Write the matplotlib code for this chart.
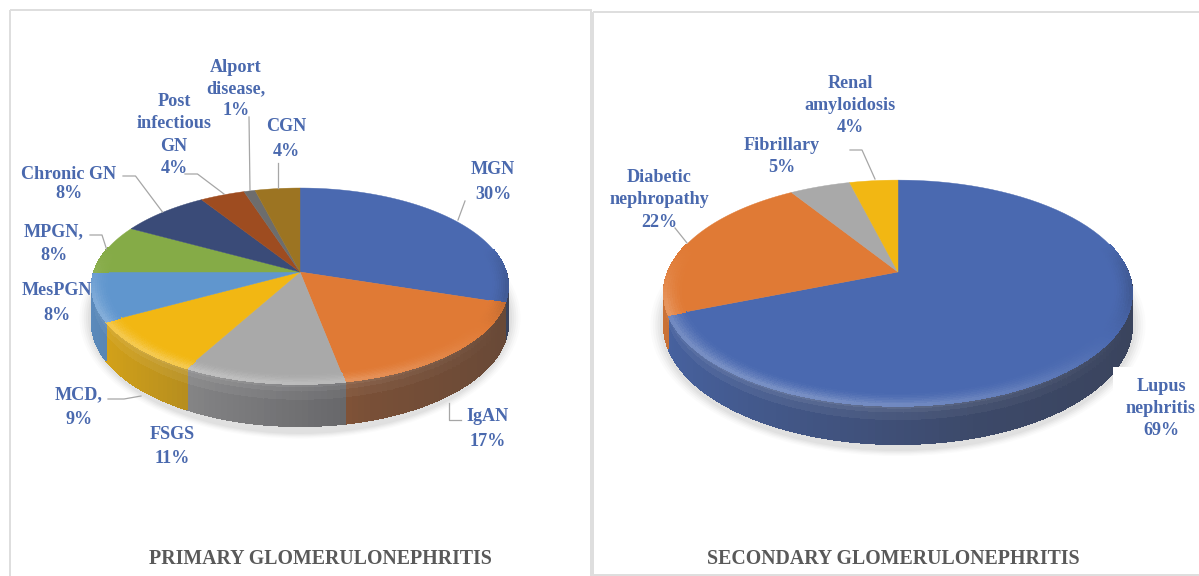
import matplotlib
matplotlib.use("Agg")
import matplotlib.pyplot as plt
import numpy as np
from matplotlib.collections import PolyCollection
from matplotlib.colors import to_rgb
from matplotlib.patches import Ellipse, Rectangle

plt.rcParams['font.family'] = ['Liberation Serif', 'DejaVu Serif']

# data
primary_names = ['MGN', 'IgAN', 'FSGS', 'MCD', 'MesPGN', 'MPGN', 'Chronic GN',
                 'Post infectious GN', 'Alport disease', 'CGN']
primary_values = [30, 17, 11, 9, 8, 8, 8, 4, 1, 4]
primary_labels = ['MGN\n30%', 'IgAN\n17%', 'FSGS\n11%', 'MCD,\n9%', 'MesPGN\n8%', 'MPGN,\n8%',
                  'Chronic GN\n8%', 'Post\ninfectious\nGN\n4%', 'Alport\ndisease,\n1%', 'CGN\n4%']
secondary_names = ['Lupus nephritis', 'Diabetic nephropathy', 'Fibrillary', 'Renal amyloidosis']
secondary_values = [69, 22, 5, 4]
secondary_labels = ['Lupus\nnephritis\n69%', 'Diabetic\nnephropathy\n22%', 'Fibrillary\n5%',
                    'Renal\namyloidosis\n4%']
primary_title = 'PRIMARY GLOMERULONEPHRITIS'
secondary_title = 'SECONDARY GLOMERULONEPHRITIS'

# styles
primary_colors = ['#4A69B0', '#E07A35', '#A9A9A9', '#F2B713', '#6096CE', '#85AB47',
                  '#3A4B78', '#9E4C20', '#6D6D6D', '#9C7422']
secondary_colors = ['#4A69B0', '#E07A35', '#A9A9A9', '#F2B713']
TEXT_COLOR = '#4A69AE'
LEADER = '#A6A6A6'
FRAME = '#DEDEDE'
FONT_PX = 18.2
DPI = 100

# layout in picture pixels: label centre x, centre y, line gap
primary_pos = [(493, 182, 27), (488, 429, 27), (172, 446.5, 26), (79, 407, 27), (57, 303, 27),
               (54, 243.5, 26), (69, 184, 20), (174, 135, 23.7), (236, 89, 22.5), (286, 139, 27)]
secondary_pos = [(1161, 408.5, 23), (659, 200, 23.5), (782, 156.5, 24), (850, 105.5, 23)]
primary_leaders = [[(465, 201), (458, 220)], [(449, 403), (449, 420), (461, 420)],
                   [(108, 399), (124, 399), (141, 396)], [(90, 235), (102, 235), (106.5, 249)],
                   [(123, 176), (135.5, 176), (162.5, 212)], [(185, 174), (197.5, 174), (224, 194)],
                   [(249, 117), (250, 190)], [(277.5, 163), (277.5, 188)]]
secondary_leaders = [[(675, 228), (687, 243)], [(850, 150), (862, 150), (875, 179)]]


def mix(color, other, t):
    return tuple((1 - t) * np.array(to_rgb(color)) + t * np.array(other))


def project(theta, r, geo):
    # clockwise from 12 o'clock, tilted disc with perspective
    x = r * np.sin(theta)
    y = r * np.cos(theta)
    w = 1 + geo['k'] * y
    return geo['cx'] + geo['A'] * x / w, geo['cy'] - geo['B'] * y / w


def draw_pie(ax, values, colors, geo):
    edges = np.radians(np.concatenate([[0], np.cumsum(values)]) * 360 / np.sum(values))

    # soft shadow under the disc
    for grow, alpha in zip([1.04, 1.03, 1.02, 1.01, 1.0], [0.03, 0.04, 0.05, 0.06, 0.07]):
        ax.add_patch(Ellipse((geo['cx'], geo['sy']), 2 * geo['rx'] * grow, 2 * geo['ry'] * grow,
                             color='#808080', alpha=alpha, lw=0, zorder=1))

    # side wall, back half stays hidden behind the top face
    polys, cols = [], []
    for i, color in enumerate(colors):
        thetas = np.linspace(edges[i], edges[i + 1], max(3, int((edges[i + 1] - edges[i]) * 40)))
        for t0, t1 in zip(thetas[:-1], thetas[1:]):
            tm = (t0 + t1) / 2
            if np.cos(tm) > 0:
                continue
            x0, y0 = project(t0, 1, geo)
            x1, y1 = project(t1, 1, geo)
            d0 = geo['D'] / (1 + geo['k'] * np.cos(t0))
            d1 = geo['D'] / (1 + geo['k'] * np.cos(t1))
            shade = np.interp(np.sin(tm), [-1, -0.3, 0.3, 1], [0.88, 0.62, 0.4, 0.3])
            for v0, v1 in zip([0, 0.1, 0.2, 0.4, 0.7], [0.1, 0.2, 0.4, 0.7, 1]):
                polys.append([(x0, y0 + d0 * v0), (x1, y1 + d1 * v0), (x1, y1 + d1 * v1), (x0, y0 + d0 * v1)])
                glow = max(0, 0.3 - v0) * 0.5 * max(0, -np.sin(tm) * 0.5 - np.cos(tm))
                cols.append(mix(mix(color, (0.2, 0.2, 0.22), 1 - shade), (1, 1, 1), glow))
    ax.add_collection(PolyCollection(polys, facecolors=cols, edgecolors=cols, linewidths=0.8,
                                     antialiaseds=False, zorder=2))

    # top face
    for i, color in enumerate(colors):
        thetas = np.linspace(edges[i], edges[i + 1], 80)
        xs, ys = project(thetas, 1, geo)
        ax.fill(np.r_[geo['cx'], xs], np.r_[geo['cy'], ys], color=color, lw=0.3, zorder=3)

    # bevel along the rim, fading out towards the back of the disc
    rings = np.linspace(0.93, 1.0, 8)
    polys, cols = [], []
    for i, color in enumerate(colors):
        thetas = np.linspace(edges[i], edges[i + 1], max(3, int((edges[i + 1] - edges[i]) * 40)))
        for t0, t1 in zip(thetas[:-1], thetas[1:]):
            tm = (t0 + t1) / 2
            sx, cy = np.sin(tm), np.cos(tm)
            weight = np.clip((0.25 - cy) / 0.5, 0, 1)
            if weight == 0:
                continue
            facing = -0.55 * sx - 0.85 * cy
            for j, (r0, r1) in enumerate(zip(rings[:-1], rings[1:])):
                amt = ((j + 1) / (len(rings) - 1)) ** 1.5 * weight
                a = project(np.array([t0, t1]), r0, geo)
                b = project(np.array([t1, t0]), r1, geo)
                polys.append(list(zip(np.r_[a[0], b[0]], np.r_[a[1], b[1]])))
                if facing > 0:
                    cols.append(mix(color, (1, 1, 1), 0.25 * amt * min(1, facing)))
                else:
                    cols.append(mix(color, (0.1, 0.1, 0.12), 0.55 * amt * min(1, -facing)))
    ax.add_collection(PolyCollection(polys, facecolors=cols, edgecolors=cols, linewidths=0.5,
                                     antialiaseds=False, zorder=4))


def draw_labels(ax, labels, positions):
    for label, (x, y, gap) in zip(labels, positions):
        ax.text(x, y, label, ha='center', va='center', ma='center', color=TEXT_COLOR, fontweight='bold',
                fontsize=FONT_PX * 72 / DPI, linespacing=gap / (FONT_PX * 0.91), zorder=7)


def draw_leaders(ax, leaders):
    for pts in leaders:
        xs, ys = zip(*pts)
        ax.plot(xs, ys, color=LEADER, lw=0.9, zorder=6)


fig = plt.figure(figsize=(11.99, 5.76), dpi=DPI)
ax = fig.add_axes([0, 0, 1, 1])
ax.set_xlim(0, 1199)
ax.set_ylim(576, 0)
ax.axis('off')

# panel frames
ax.add_patch(Rectangle((10, 10), 581, 580, fill=False, ec=FRAME, lw=1.4, zorder=0))
ax.add_patch(Rectangle((593, 11.5), 620, 563, fill=False, ec=FRAME, lw=1.4, zorder=0))

geo_primary = dict(cx=300, cy=272, A=206, B=96, k=0.143, D=36, sy=318, rx=212, ry=116)
geo_secondary = dict(cx=898, cy=272, A=230, B=109, k=0.186, D=31, sy=325, rx=238, ry=126)

draw_pie(ax, primary_values, primary_colors, geo_primary)
draw_pie(ax, secondary_values, secondary_colors, geo_secondary)

# white box behind the lupus label cuts the disc edge in the source
ax.add_patch(Rectangle((1113, 367), 84, 80, fc='white', ec='none', zorder=5))

draw_leaders(ax, primary_leaders)
draw_leaders(ax, secondary_leaders)
draw_labels(ax, primary_labels, primary_pos)
draw_labels(ax, secondary_labels, secondary_pos)

ax.text(320, 558.5, primary_title, ha='center', va='center', color='#595959', fontweight='bold', fontsize=14.3)
ax.text(893, 558.5, secondary_title, ha='center', va='center', color='#595959', fontweight='bold', fontsize=14.3)

plt.savefig("out.png", dpi=DPI)
